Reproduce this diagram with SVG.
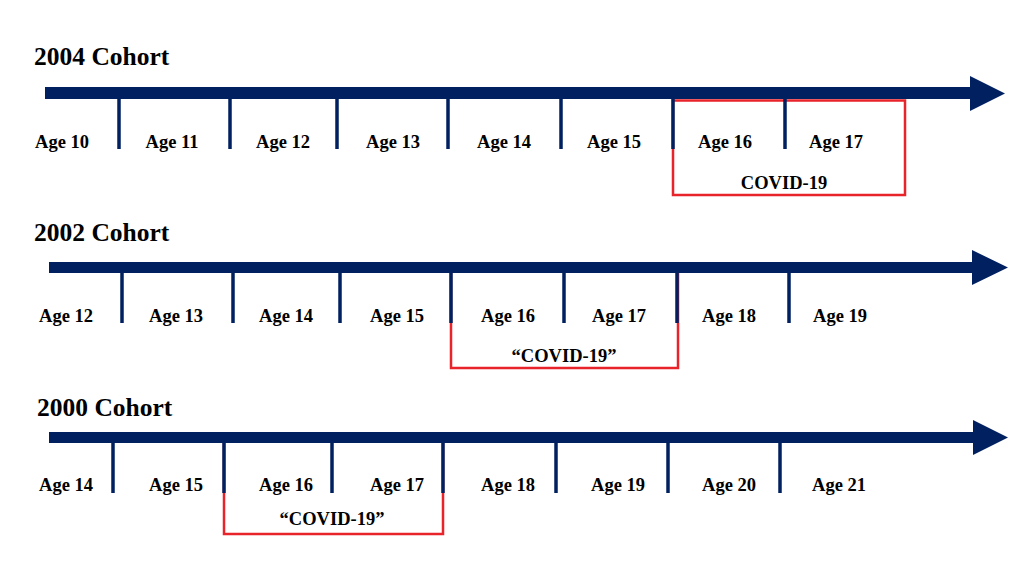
<svg xmlns="http://www.w3.org/2000/svg" width="1024" height="576" viewBox="0 0 1024 576">
<style>
.t{font-family:"Liberation Serif","Times New Roman",serif;font-weight:bold;fill:#000}
.title{font-size:25.5px}
.lab{font-size:18.5px;text-anchor:middle}
.bar{fill:#002060}
.tick{stroke:#002060;stroke-width:3.5}
.cov{fill:none;stroke:#e8232a;stroke-width:2.5}
</style>
<rect width="1024" height="576" fill="#fff"/>
<g id="cohort-2004">
<text class="t title" x="34" y="65">2004 Cohort</text>
<rect class="cov" x="673" y="100.5" width="232" height="94.5"/>
<path class="bar" d="M45,87 H970 V76 L1005,93.5 L970,111 V99 H45 Z"/>
<line class="tick" x1="119" y1="99" x2="119" y2="149"/>
<line class="tick" x1="230" y1="99" x2="230" y2="149"/>
<line class="tick" x1="337" y1="99" x2="337" y2="149"/>
<line class="tick" x1="448" y1="99" x2="448" y2="149"/>
<line class="tick" x1="561" y1="99" x2="561" y2="149"/>
<line class="tick" x1="673" y1="99" x2="673" y2="149"/>
<line class="tick" x1="785" y1="99" x2="785" y2="149"/>
<text class="t lab" x="62" y="148">Age 10</text>
<text class="t lab" x="172" y="148">Age 11</text>
<text class="t lab" x="283" y="148">Age 12</text>
<text class="t lab" x="393" y="148">Age 13</text>
<text class="t lab" x="504" y="148">Age 14</text>
<text class="t lab" x="614" y="148">Age 15</text>
<text class="t lab" x="725" y="148">Age 16</text>
<text class="t lab" x="836" y="148">Age 17</text>
<text class="t lab" x="784" y="189">COVID-19</text>
</g>
<g id="cohort-2002">
<text class="t title" x="34" y="241">2002 Cohort</text>
<rect class="cov" x="451" y="267" width="227" height="101"/>
<path class="bar" d="M49,262 H972 V250 L1008,267.5 L972,285 V273 H49 Z"/>
<line class="tick" x1="122" y1="273" x2="122" y2="323"/>
<line class="tick" x1="233" y1="273" x2="233" y2="323"/>
<line class="tick" x1="340" y1="273" x2="340" y2="323"/>
<line class="tick" x1="451" y1="273" x2="451" y2="323"/>
<line class="tick" x1="564" y1="273" x2="564" y2="323"/>
<line class="tick" x1="677" y1="273" x2="677" y2="323"/>
<line class="tick" x1="789" y1="273" x2="789" y2="323"/>
<text class="t lab" x="66" y="322">Age 12</text>
<text class="t lab" x="176" y="322">Age 13</text>
<text class="t lab" x="286" y="322">Age 14</text>
<text class="t lab" x="397" y="322">Age 15</text>
<text class="t lab" x="508" y="322">Age 16</text>
<text class="t lab" x="619" y="322">Age 17</text>
<text class="t lab" x="729" y="322">Age 18</text>
<text class="t lab" x="840" y="322">Age 19</text>
<text class="t lab" x="564" y="362">“COVID-19”</text>
</g>
<g id="cohort-2000">
<text class="t title" x="37" y="416">2000 Cohort</text>
<rect class="cov" x="224" y="437" width="219" height="97"/>
<path class="bar" d="M49,432 H973 V420 L1008,437.5 L973,455 V443 H49 Z"/>
<line class="tick" x1="113" y1="443" x2="113" y2="493"/>
<line class="tick" x1="224" y1="443" x2="224" y2="493"/>
<line class="tick" x1="332" y1="443" x2="332" y2="493"/>
<line class="tick" x1="443" y1="443" x2="443" y2="493"/>
<line class="tick" x1="556" y1="443" x2="556" y2="493"/>
<line class="tick" x1="668" y1="443" x2="668" y2="493"/>
<line class="tick" x1="780" y1="443" x2="780" y2="493"/>
<text class="t lab" x="66" y="491">Age 14</text>
<text class="t lab" x="176" y="491">Age 15</text>
<text class="t lab" x="286" y="491">Age 16</text>
<text class="t lab" x="397" y="491">Age 17</text>
<text class="t lab" x="508" y="491">Age 18</text>
<text class="t lab" x="618" y="491">Age 19</text>
<text class="t lab" x="729" y="491">Age 20</text>
<text class="t lab" x="839" y="491">Age 21</text>
<text class="t lab" x="332" y="525">“COVID-19”</text>
</g>
</svg>
